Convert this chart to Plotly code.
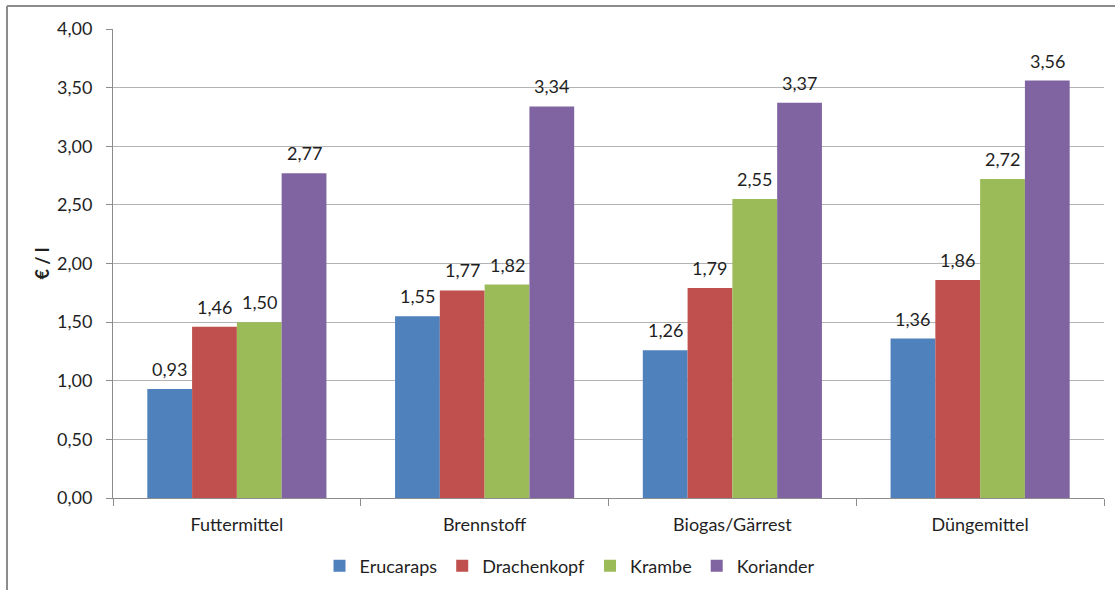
import plotly.graph_objects as go

categories = ["Futtermittel", "Brennstoff", "Biogas/Gärrest", "Düngemittel"]
series_names = ["Erucaraps", "Drachenkopf", "Krambe", "Koriander"]
erucaraps = [0.93, 1.55, 1.26, 1.36]
drachenkopf = [1.46, 1.77, 1.79, 1.86]
krambe = [1.50, 1.82, 2.55, 2.72]
koriander = [2.77, 3.34, 3.37, 3.56]
y_ticks = [0, 0.5, 1.0, 1.5, 2.0, 2.5, 3.0, 3.5, 4.0]
y_tick_labels = ["0,00", "0,50", "1,00", "1,50", "2,00", "2,50", "3,00", "3,50", "4,00"]
y_title = "€ / l"

colors = ["#4F81BD", "#C0504D", "#9BBB59", "#8064A2"]
all_series = [erucaraps, drachenkopf, krambe, koriander]

W, H = 1115, 590
ML, MR, MT, MB = 113, 11, 29, 92
PW, PH = W - ML - MR, H - MT - MB
FONT = "Lato"
FS = 18
TXT = "#1f1f1f"
BARGAP = 0.277

fig = go.Figure()
for name, vals, col in zip(series_names, all_series, colors):
    fig.add_trace(go.Bar(name=name, x=categories, y=vals, marker=dict(color=col, line=dict(width=0))))

# data labels
n = len(all_series)
gw = 1 - BARGAP
bw = gw / n
for j, vals in enumerate(all_series):
    for i, v in enumerate(vals):
        fig.add_annotation(
            x=i - gw / 2 + (j + 0.5) * bw, y=v, xref="x", yref="y",
            text=f"{v:.2f}".replace(".", ","), showarrow=False,
            yanchor="bottom", yshift=7,
            font=dict(family=FONT, size=FS, color=TXT),
        )

def px_x(p):
    return (p - ML) / PW

def px_y(p):
    return (H - MB - p) / PH

border = dict(color="#8C8C8C", width=2)
fig.add_shape(type="line", xref="paper", yref="paper", x0=px_x(7), x1=px_x(7), y0=px_y(6), y1=px_y(595), line=border)
fig.add_shape(type="line", xref="paper", yref="paper", x0=px_x(7), x1=px_x(1120), y0=px_y(6), y1=px_y(6), line=border)

fig.update_layout(
    width=W, height=H,
    margin=dict(l=ML, r=MR, t=MT, b=MB, pad=0, autoexpand=False),
    paper_bgcolor="white", plot_bgcolor="white",
    barmode="group", bargap=BARGAP, bargroupgap=0,
    font=dict(family=FONT, size=FS, color=TXT),
    legend=dict(orientation="h", x=px_x(570), xanchor="center", y=px_y(566), yanchor="middle",
                font=dict(family=FONT, size=FS, color=TXT), itemwidth=30, traceorder="normal"),
    showlegend=True,
)
fig.update_xaxes(
    showline=True, linecolor="#8C8C8C", linewidth=1,
    ticks="outside", tickson="boundaries", ticklen=7, tickcolor="#8C8C8C",
    ticklabelstandoff=10, showgrid=False, tickfont=dict(family=FONT, size=FS, color=TXT),
)
fig.update_yaxes(
    range=[0, 4], tickvals=y_ticks, ticktext=y_tick_labels,
    showline=True, linecolor="#8C8C8C", linewidth=1,
    ticks="outside", ticklen=6, tickcolor="#8C8C8C", ticklabelstandoff=10,
    showgrid=True, gridcolor="#B3B3B3", gridwidth=1, zeroline=False,
    tickfont=dict(family=FONT, size=FS, color=TXT),
    title=dict(text=f"<b>{y_title}</b>", font=dict(family=FONT, size=FS, color=TXT), standoff=2),
)

fig.write_html("out.html")
